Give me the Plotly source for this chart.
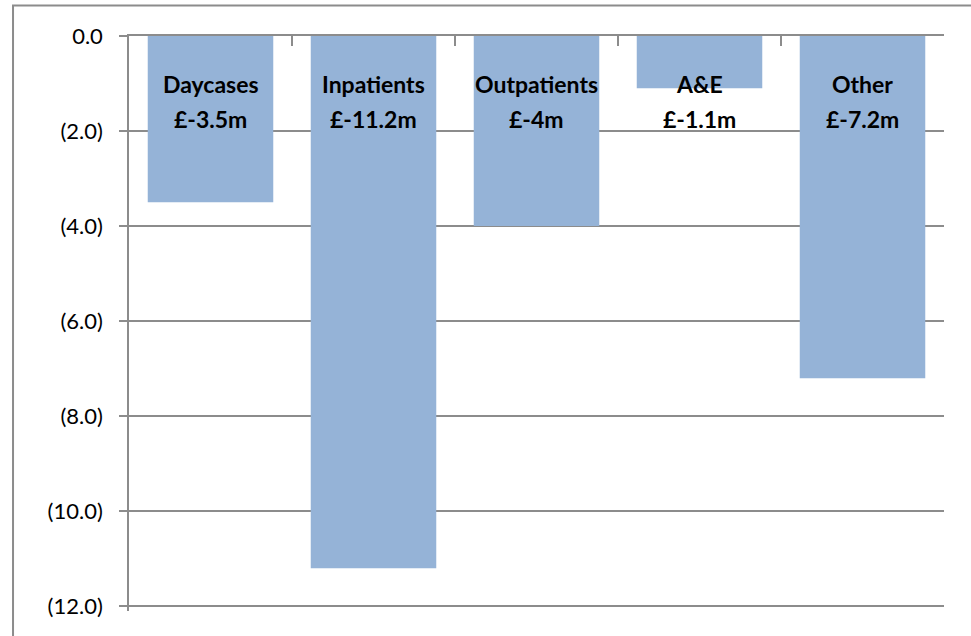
import plotly.graph_objects as go

categories = ["Daycases", "Inpatients", "Outpatients", "A&E", "Other"]
values = [-3.5, -11.2, -4.0, -1.1, -7.2]
value_labels = ["£-3.5m", "£-11.2m", "£-4m", "£-1.1m", "£-7.2m"]
tick_vals = [0, -2, -4, -6, -8, -10, -12]
tick_text = ["0.0", "(2.0)", "(4.0)", "(6.0)", "(8.0)", "(10.0)", "(12.0)"]

FONT = "Lato"
GREY = "#8c8c8c"

fig = go.Figure(go.Bar(x=categories, y=values, marker=dict(color="#95B3D7", line=dict(width=0)),
                       hoverinfo="skip"))

for c, lab in zip(categories, value_labels):
    fig.add_annotation(x=c, y=-1.01, text="<b>%s</b>" % c, showarrow=False,
                       font=dict(family=FONT, size=23, color="#000"), yanchor="middle")
    fig.add_annotation(x=c, y=-1.75, text="<b>%s</b>" % lab, showarrow=False,
                       font=dict(family=FONT, size=23, color="#000"), yanchor="middle")

# outer chart-area border (extends beyond the window at right and bottom)
fig.add_shape(type="rect", xref="paper", yref="paper", x0=-0.1423, x1=1.2, y0=-0.2, y1=1.053,
              line=dict(color=GREY, width=2), fillcolor="rgba(0,0,0,0)", layer="below")

fig.update_layout(
    width=971, height=636,
    margin=dict(l=129, r=27, t=36, b=25),
    paper_bgcolor="white", plot_bgcolor="white",
    bargap=0.23, showlegend=False,
    xaxis=dict(side="top", showticklabels=False, ticks="inside", ticklen=10, tickwidth=1.5,
               tickcolor=GREY, tickson="boundaries", showline=True, linecolor=GREY, linewidth=1.5,
               showgrid=False, zeroline=False, fixedrange=True, automargin=False),
    yaxis=dict(range=[-12.1, 0], tickvals=tick_vals, ticktext=tick_text, ticks="outside", ticklen=8,
               tickwidth=1.5, tickcolor=GREY, showline=True, linecolor=GREY, linewidth=1.5,
               showgrid=True, gridcolor=GREY, gridwidth=1.5, zeroline=False,
               ticklabelstandoff=12, tickfont=dict(family=FONT, size=22, color="#000"),
               fixedrange=True, automargin=False),
)

fig.write_html("out.html", config={"displayModeBar": False},
               post_script="document.body.style.margin='0';")
